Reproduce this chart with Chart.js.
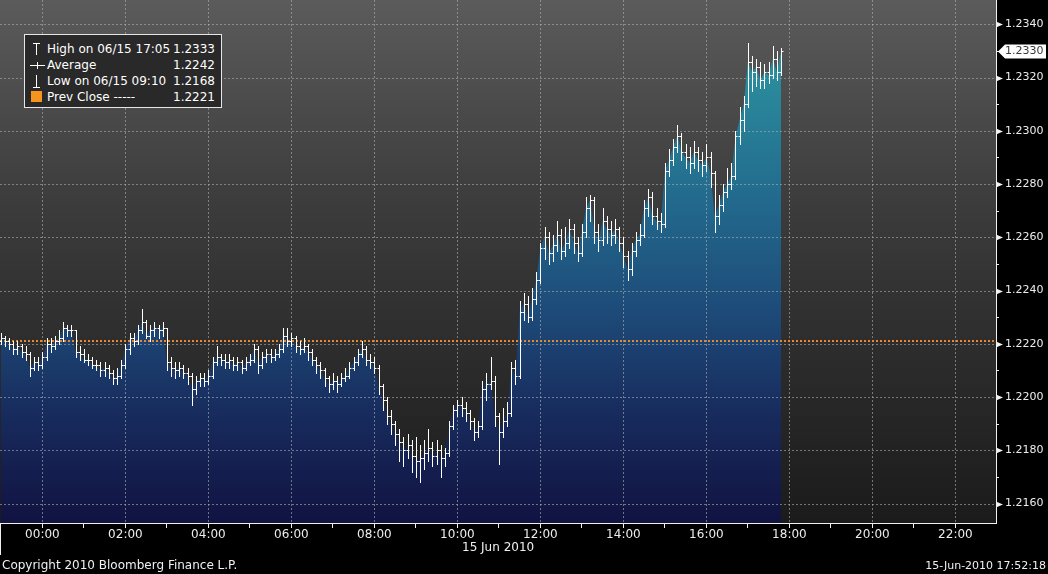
<!DOCTYPE html>
<html>
<head>
<meta charset="utf-8">
<script src="https://cdn.jsdelivr.net/npm/chart.js@4.4.0/dist/chart.umd.min.js"></script>
<style>
  body { margin: 0; background: #000; }
  #wrap { position: relative; width: 1048px; height: 574px; overflow: hidden; font-family: "DejaVu Sans", sans-serif; color: #fff; background: #000; }
  #chart { position: absolute; left: 0; top: 0; }
  .legend { position: absolute; left: 24px; top: 34px; width: 198px; height: 74px; box-sizing: border-box; background: #292929; border: 1px solid #e6e6e6; font-size: 12px; }
  .legend svg { position: absolute; left: 0; top: 0; }
  .row { position: absolute; left: 0; width: 100%; height: 16px; line-height: 16px; white-space: nowrap; }
  .row .lbl { position: absolute; left: 22px; }
  .row .val { position: absolute; right: 6px; }
  .swatch { position: absolute; left: 6px; top: 56px; width: 11px; height: 11px; background: #f7941d; }
  .foot { position: absolute; white-space: nowrap; color: #f0f0f0; }
</style>
</head>
<body>
<div id="wrap">
  <canvas id="chart" width="1048" height="574"></canvas>
  <div class="legend">
    <svg width="40" height="72">
      <g stroke="#fff" stroke-width="1" fill="none">
        <path d="M8 8.5H15M11.5 8V20"/>
        <path d="M5 30.5H20M12.5 27V34"/>
        <path d="M11.5 40V52M8 52.5H15"/>
      </g>
    </svg>
    <div class="swatch"></div>
    <div class="row" style="top:6px"><span class="lbl" id="lHigh"></span><span class="val" id="vHigh"></span></div>
    <div class="row" style="top:22px"><span class="lbl">Average</span><span class="val" id="vAvg"></span></div>
    <div class="row" style="top:38px"><span class="lbl" id="lLow"></span><span class="val" id="vLow"></span></div>
    <div class="row" style="top:54px"><span class="lbl">Prev Close -----</span><span class="val" id="vPrev"></span></div>
  </div>
  <div class="foot" style="left:462px; top:540px; font-size:12px; line-height:14px;">15 Jun 2010</div>
  <div class="foot" style="left:2px; top:558px; font-size:12px; line-height:14px;">Copyright 2010 Bloomberg Finance L.P.</div>
  <div class="foot" style="right:2px; top:559px; font-size:11px; line-height:13px;">15-Jun-2010 17:52:18</div>
</div>
<script>
// 6-minute bars, minutes from 00:00 on 15 Jun (first bar 23:00 on 14 Jun)
const firstBar = -60;
const barStep = 6;

const opens = [
  1.2221, 1.2222, 1.2221, 1.2220, 1.2218, 1.2219, 1.2217, 1.2216, 1.2211, 1.2213,
  1.2212, 1.2215, 1.2220, 1.2219, 1.2221, 1.2222, 1.2226, 1.2225, 1.2225, 1.2217,
  1.2216, 1.2214, 1.2214, 1.2212, 1.2212, 1.2210, 1.2211, 1.2209, 1.2207, 1.2208,
  1.2212, 1.2218, 1.2222, 1.2221, 1.2225, 1.2228, 1.2223, 1.2225, 1.2226, 1.2225,
  1.2226, 1.2213, 1.2211, 1.2210, 1.2211, 1.2209, 1.2208, 1.2203, 1.2206, 1.2207,
  1.2206, 1.2208, 1.2213, 1.2215, 1.2214, 1.2213, 1.2214, 1.2212, 1.2213, 1.2211,
  1.2213, 1.2214, 1.2218, 1.2212, 1.2215, 1.2216, 1.2215, 1.2216, 1.2218, 1.2223,
  1.2221, 1.2222, 1.2219, 1.2218, 1.2219, 1.2217, 1.2214, 1.2212, 1.2210, 1.2207,
  1.2205, 1.2206, 1.2205, 1.2207, 1.2208, 1.2211, 1.2213, 1.2216, 1.2218, 1.2214,
  1.2213, 1.2211, 1.2204, 1.2199, 1.2193, 1.2190, 1.2186, 1.2183, 1.2180, 1.2182,
  1.2178, 1.2176, 1.2177, 1.2179, 1.2181, 1.2178, 1.2180, 1.2177, 1.2179, 1.2189,
  1.2195, 1.2197, 1.2196, 1.2194, 1.2191, 1.2187, 1.2189, 1.2203, 1.2205, 1.2206,
  1.2193, 1.2187, 1.2191, 1.2194, 1.2211, 1.2208, 1.2232, 1.2235, 1.2230, 1.2237,
  1.2244, 1.2256, 1.2260, 1.2254, 1.2257, 1.2261, 1.2255, 1.2258, 1.2263, 1.2258,
  1.2254, 1.2262, 1.2271, 1.2274, 1.2262, 1.2259, 1.2266, 1.2263, 1.2261, 1.2263,
  1.2258, 1.2253, 1.2248, 1.2255, 1.2259, 1.2261, 1.2271, 1.2275, 1.2268, 1.2266,
  1.2265, 1.2285, 1.2289, 1.2294, 1.2298, 1.2292, 1.2290, 1.2288, 1.2292, 1.2289,
  1.2287, 1.2290, 1.2284, 1.2268, 1.2272, 1.2277, 1.2280, 1.2283, 1.2298, 1.2304,
  1.2310, 1.2326, 1.2322, 1.2324, 1.2319, 1.2322, 1.2321, 1.2327, 1.2322
];
const highs = [
  1.2224, 1.2223, 1.2222, 1.2221, 1.2221, 1.2220, 1.2219, 1.2217, 1.2215, 1.2215,
  1.2217, 1.2222, 1.2222, 1.2223, 1.2225, 1.2228, 1.2227, 1.2227, 1.2225, 1.2219,
  1.2218, 1.2216, 1.2215, 1.2214, 1.2213, 1.2213, 1.2212, 1.2210, 1.2211, 1.2214,
  1.2220, 1.2224, 1.2224, 1.2227, 1.2233, 1.2229, 1.2227, 1.2228, 1.2227, 1.2228,
  1.2226, 1.2215, 1.2213, 1.2213, 1.2212, 1.2211, 1.2209, 1.2208, 1.2209, 1.2209,
  1.2210, 1.2215, 1.2219, 1.2216, 1.2216, 1.2216, 1.2215, 1.2215, 1.2214, 1.2215,
  1.2216, 1.2220, 1.2219, 1.2217, 1.2218, 1.2218, 1.2218, 1.2220, 1.2226, 1.2226,
  1.2224, 1.2223, 1.2221, 1.2222, 1.2220, 1.2218, 1.2215, 1.2213, 1.2211, 1.2208,
  1.2209, 1.2208, 1.2209, 1.2211, 1.2213, 1.2215, 1.2218, 1.2221, 1.2219, 1.2216,
  1.2215, 1.2212, 1.2205, 1.2200, 1.2195, 1.2191, 1.2188, 1.2185, 1.2186, 1.2184,
  1.2185, 1.2182, 1.2184, 1.2188, 1.2183, 1.2184, 1.2182, 1.2181, 1.2191, 1.2197,
  1.2199, 1.2200, 1.2198, 1.2195, 1.2192, 1.2191, 1.2206, 1.2209, 1.2215, 1.2208,
  1.2194, 1.2196, 1.2198, 1.2213, 1.2214, 1.2236, 1.2239, 1.2238, 1.2241, 1.2247,
  1.2258, 1.2264, 1.2262, 1.2261, 1.2266, 1.2263, 1.2264, 1.2267, 1.2265, 1.2260,
  1.2265, 1.2275, 1.2276, 1.2275, 1.2265, 1.2271, 1.2268, 1.2266, 1.2267, 1.2264,
  1.2260, 1.2255, 1.2258, 1.2262, 1.2265, 1.2274, 1.2278, 1.2277, 1.2271, 1.2269,
  1.2288, 1.2293, 1.2297, 1.2302, 1.2299, 1.2295, 1.2294, 1.2296, 1.2294, 1.2292,
  1.2295, 1.2292, 1.2285, 1.2276, 1.2280, 1.2286, 1.2288, 1.2300, 1.2309, 1.2313,
  1.2333, 1.2328, 1.2327, 1.2326, 1.2325, 1.2326, 1.2332, 1.2330, 1.2331
];
const lows = [
  1.2220, 1.2219, 1.2218, 1.2216, 1.2216, 1.2215, 1.2214, 1.2208, 1.2210, 1.2210,
  1.2211, 1.2214, 1.2217, 1.2218, 1.2220, 1.2221, 1.2223, 1.2223, 1.2215, 1.2214,
  1.2213, 1.2212, 1.2211, 1.2210, 1.2208, 1.2208, 1.2207, 1.2205, 1.2205, 1.2207,
  1.2211, 1.2216, 1.2219, 1.2220, 1.2224, 1.2222, 1.2221, 1.2223, 1.2222, 1.2223,
  1.2210, 1.2208, 1.2207, 1.2208, 1.2207, 1.2205, 1.2197, 1.2201, 1.2204, 1.2204,
  1.2205, 1.2207, 1.2212, 1.2212, 1.2211, 1.2211, 1.2210, 1.2210, 1.2209, 1.2210,
  1.2212, 1.2213, 1.2209, 1.2211, 1.2213, 1.2213, 1.2214, 1.2215, 1.2217, 1.2219,
  1.2219, 1.2217, 1.2216, 1.2217, 1.2214, 1.2212, 1.2209, 1.2207, 1.2204, 1.2202,
  1.2203, 1.2202, 1.2204, 1.2206, 1.2207, 1.2210, 1.2212, 1.2215, 1.2212, 1.2211,
  1.2209, 1.2201, 1.2195, 1.2190, 1.2186, 1.2182, 1.2176, 1.2174, 1.2177, 1.2172,
  1.2170, 1.2168, 1.2173, 1.2176, 1.2174, 1.2175, 1.2170, 1.2174, 1.2178, 1.2188,
  1.2193, 1.2193, 1.2191, 1.2188, 1.2184, 1.2185, 1.2188, 1.2199, 1.2203, 1.2189,
  1.2175, 1.2185, 1.2189, 1.2193, 1.2205, 1.2207, 1.2229, 1.2228, 1.2229, 1.2235,
  1.2243, 1.2252, 1.2250, 1.2251, 1.2255, 1.2252, 1.2253, 1.2256, 1.2254, 1.2251,
  1.2253, 1.2260, 1.2266, 1.2258, 1.2255, 1.2257, 1.2258, 1.2257, 1.2258, 1.2255,
  1.2249, 1.2244, 1.2246, 1.2253, 1.2257, 1.2260, 1.2268, 1.2265, 1.2263, 1.2262,
  1.2264, 1.2283, 1.2287, 1.2292, 1.2289, 1.2286, 1.2284, 1.2286, 1.2285, 1.2283,
  1.2285, 1.2279, 1.2262, 1.2265, 1.2270, 1.2275, 1.2278, 1.2282, 1.2295, 1.2300,
  1.2309, 1.2315, 1.2317, 1.2316, 1.2316, 1.2318, 1.2320, 1.2319, 1.2321
];
const closes = [
  1.2222, 1.2221, 1.2220, 1.2218, 1.2219, 1.2217, 1.2216, 1.2211, 1.2213, 1.2212,
  1.2215, 1.2220, 1.2219, 1.2221, 1.2222, 1.2226, 1.2225, 1.2225, 1.2217, 1.2216,
  1.2214, 1.2214, 1.2212, 1.2212, 1.2210, 1.2211, 1.2209, 1.2207, 1.2208, 1.2212,
  1.2218, 1.2222, 1.2221, 1.2225, 1.2228, 1.2223, 1.2225, 1.2226, 1.2225, 1.2226,
  1.2213, 1.2211, 1.2210, 1.2211, 1.2209, 1.2208, 1.2203, 1.2206, 1.2207, 1.2206,
  1.2208, 1.2213, 1.2215, 1.2214, 1.2213, 1.2214, 1.2212, 1.2213, 1.2211, 1.2213,
  1.2214, 1.2218, 1.2212, 1.2215, 1.2216, 1.2215, 1.2216, 1.2218, 1.2223, 1.2221,
  1.2222, 1.2219, 1.2218, 1.2219, 1.2217, 1.2214, 1.2212, 1.2210, 1.2207, 1.2205,
  1.2206, 1.2205, 1.2207, 1.2208, 1.2211, 1.2213, 1.2216, 1.2218, 1.2214, 1.2213,
  1.2211, 1.2204, 1.2199, 1.2193, 1.2190, 1.2186, 1.2183, 1.2180, 1.2182, 1.2178,
  1.2176, 1.2177, 1.2179, 1.2181, 1.2178, 1.2180, 1.2177, 1.2179, 1.2189, 1.2195,
  1.2197, 1.2196, 1.2194, 1.2191, 1.2187, 1.2189, 1.2203, 1.2205, 1.2206, 1.2193,
  1.2187, 1.2191, 1.2194, 1.2211, 1.2208, 1.2232, 1.2235, 1.2230, 1.2237, 1.2244,
  1.2256, 1.2260, 1.2254, 1.2257, 1.2261, 1.2255, 1.2258, 1.2263, 1.2258, 1.2254,
  1.2262, 1.2271, 1.2274, 1.2262, 1.2259, 1.2266, 1.2263, 1.2261, 1.2263, 1.2258,
  1.2253, 1.2248, 1.2255, 1.2259, 1.2261, 1.2271, 1.2275, 1.2268, 1.2266, 1.2265,
  1.2285, 1.2289, 1.2294, 1.2298, 1.2292, 1.2290, 1.2288, 1.2292, 1.2289, 1.2287,
  1.2290, 1.2284, 1.2268, 1.2272, 1.2277, 1.2280, 1.2283, 1.2298, 1.2304, 1.2310,
  1.2326, 1.2322, 1.2324, 1.2319, 1.2322, 1.2321, 1.2327, 1.2322, 1.2330
];

const hourTicks = [-60, 0, 60, 120, 180, 240, 300, 360, 420, 480, 540, 600, 660, 720, 780, 840, 900, 960, 1020, 1080, 1140, 1200, 1260, 1320];
const priceTicks = [1.2160, 1.2170, 1.2180, 1.2190, 1.2200, 1.2210, 1.2220, 1.2230, 1.2240, 1.2250, 1.2260, 1.2270, 1.2280, 1.2290, 1.2300, 1.2310, 1.2320, 1.2330, 1.2340];

const highInfo = { label: 'High on 06/15 17:05', value: 1.2333 };
const lowInfo = { label: 'Low on 06/15 09:10', value: 1.2168 };
const average = 1.2242;
const prevClose = 1.2221;

const barTimes = closes.map((_, i) => firstBar + i * barStep);
const lastPrice = closes[closes.length - 1];

document.getElementById('lHigh').textContent = highInfo.label;
document.getElementById('vHigh').textContent = highInfo.value.toFixed(4);
document.getElementById('vAvg').textContent = average.toFixed(4);
document.getElementById('lLow').textContent = lowInfo.label;
document.getElementById('vLow').textContent = lowInfo.value.toFixed(4);
document.getElementById('vPrev').textContent = prevClose.toFixed(4);

const isMajorPrice = v => Math.round(v * 10000) % 20 === 0;

const bloombergPlugin = {
  id: 'bloomberg',
  beforeDatasetsDraw(chart) {
    const { ctx, chartArea: a } = chart;
    const g = ctx.createLinearGradient(0, a.top, 0, a.bottom);
    g.addColorStop(0, '#5b5b5b');
    g.addColorStop(0.4, '#3b3b3b');
    g.addColorStop(1, '#1b1b1b');
    ctx.save();
    ctx.fillStyle = g;
    ctx.fillRect(a.left, a.top, a.right - a.left, a.bottom - a.top);
    ctx.restore();
  },
  afterDatasetsDraw(chart) {
    const { ctx, chartArea: a, scales: { x, y } } = chart;
    ctx.save();
    ctx.beginPath();
    ctx.rect(a.left, a.top, a.right - a.left, a.bottom - a.top);
    ctx.clip();

    // dashed grid
    ctx.strokeStyle = 'rgba(175,175,175,0.6)';
    ctx.lineWidth = 1;
    ctx.setLineDash([2, 2]);
    ctx.beginPath();
    priceTicks.filter(isMajorPrice).forEach(v => {
      const py = Math.round(y.getPixelForValue(v)) + 0.5;
      ctx.moveTo(a.left, py); ctx.lineTo(a.right, py);
    });
    hourTicks.filter(v => v % 120 === 0).forEach(v => {
      const px = Math.round(x.getPixelForValue(v)) + 0.5;
      ctx.moveTo(px, a.top); ctx.lineTo(px, a.bottom);
    });
    ctx.stroke();

    // previous close
    const pc = Math.round(y.getPixelForValue(prevClose));
    ctx.strokeStyle = '#e8892b';
    ctx.lineWidth = 2;
    ctx.setLineDash([2, 2]);
    ctx.beginPath();
    ctx.moveTo(a.left, pc); ctx.lineTo(a.right, pc);
    ctx.stroke();

    // OHLC bars
    ctx.setLineDash([]);
    ctx.strokeStyle = '#ffffff';
    ctx.lineWidth = 1;
    ctx.beginPath();
    barTimes.forEach((t, i) => {
      const px = Math.round(x.getPixelForValue(t)) + 0.5;
      const ph = Math.round(y.getPixelForValue(highs[i]));
      const pl = Math.round(y.getPixelForValue(lows[i]));
      const po = Math.round(y.getPixelForValue(opens[i])) + 0.5;
      const pcl = Math.round(y.getPixelForValue(closes[i])) + 0.5;
      ctx.moveTo(px, ph); ctx.lineTo(px, pl + 1);
      ctx.moveTo(px - 2, po); ctx.lineTo(px, po);
      ctx.moveTo(px, pcl); ctx.lineTo(px + 2, pcl);
    });
    ctx.stroke();
    ctx.restore();
  },
  afterDraw(chart) {
    const { ctx, chartArea: a, scales: { y } } = chart;
    ctx.save();
    // axis lines
    ctx.strokeStyle = '#f0f0f0';
    ctx.lineWidth = 1;
    ctx.beginPath();
    ctx.moveTo(a.right + 0.5, a.top); ctx.lineTo(a.right + 0.5, a.bottom + 1);
    ctx.moveTo(a.left, a.bottom + 0.5); ctx.lineTo(a.right + 1, a.bottom + 0.5);
    ctx.moveTo(a.left + 0.5, a.bottom); ctx.lineTo(a.left + 0.5, a.bottom + 32);
    ctx.stroke();

    // price axis ticks: arrows at labelled values, short marks between
    ctx.fillStyle = '#f0f0f0';
    priceTicks.forEach(v => {
      const py = Math.round(y.getPixelForValue(v)) + 0.5;
      if (isMajorPrice(v)) {
        ctx.beginPath();
        ctx.moveTo(a.right, py - 3);
        ctx.lineTo(a.right + 7, py);
        ctx.lineTo(a.right, py + 3);
        ctx.closePath();
        ctx.fill();
      } else {
        ctx.beginPath();
        ctx.moveTo(a.right, py); ctx.lineTo(a.right + 3, py);
        ctx.stroke();
      }
    });

    // last price tag
    const ly = Math.round(y.getPixelForValue(lastPrice)) + 0.5;
    ctx.fillStyle = '#ffffff';
    ctx.beginPath();
    ctx.moveTo(a.right + 2, ly);
    ctx.lineTo(a.right + 9, ly - 7);
    ctx.lineTo(a.right + 50, ly - 7);
    ctx.lineTo(a.right + 50, ly + 7);
    ctx.lineTo(a.right + 9, ly + 7);
    ctx.closePath();
    ctx.fill();
    ctx.fillStyle = '#3a3a3a';
    ctx.font = '11px "DejaVu Sans"';
    ctx.textBaseline = 'middle';
    ctx.fillText(lastPrice.toFixed(4), a.right + 9, ly);
    ctx.restore();
  }
};

const areaFill = context => {
  const { ctx, chartArea } = context.chart;
  if (!chartArea) return 'rgba(0,0,0,0)';
  const g = ctx.createLinearGradient(0, chartArea.top, 0, chartArea.bottom);
  g.addColorStop(0, '#2fa0a8');
  g.addColorStop(0.15, '#2a8b9c');
  g.addColorStop(0.4, '#22678c');
  g.addColorStop(0.6, '#1d4a78');
  g.addColorStop(0.8, '#172a5c');
  g.addColorStop(1, '#111341');
  return g;
};

new Chart(document.getElementById('chart'), {
  type: 'line',
  data: {
    datasets: [{
      data: barTimes.map((t, i) => ({ x: t, y: closes[i] })),
      fill: 'start',
      backgroundColor: areaFill,
      borderWidth: 0,
      pointRadius: 0,
      tension: 0
    }]
  },
  options: {
    responsive: false,
    animation: false,
    devicePixelRatio: 1,
    layout: { padding: 0 },
    plugins: { legend: { display: false }, tooltip: { enabled: false } },
    scales: {
      x: {
        type: 'linear',
        min: -61.3,
        max: 1378.7,
        afterFit(s) { s.height = 51; s.paddingLeft = 0; s.paddingRight = 0; },
        afterBuildTicks(s) { s.ticks = hourTicks.map(v => ({ value: v })); },
        ticks: {
          autoSkip: false,
          maxRotation: 0,
          padding: 0,
          color: '#ececec',
          font: { family: 'DejaVu Sans', size: 12 },
          callback: v => v % 120 === 0 ? String(((v / 60) + 24) % 24).padStart(2, '0') + ':00' : ''
        },
        grid: { drawOnChartArea: false, drawTicks: true, tickLength: 5, color: '#f0f0f0', tickColor: '#f0f0f0' },
        border: { display: false }
      },
      y: {
        position: 'right',
        min: 1.215268,
        max: 1.234913,
        afterFit(s) { s.width = 52; s.paddingTop = 0; s.paddingBottom = 0; },
        afterBuildTicks(s) { s.ticks = priceTicks.map(v => ({ value: v })); },
        ticks: {
          autoSkip: false,
          padding: 9,
          color: '#ececec',
          font: { family: 'DejaVu Sans', size: 11 },
          callback: v => isMajorPrice(v) ? v.toFixed(4) : ''
        },
        grid: { drawOnChartArea: false, drawTicks: false },
        border: { display: false }
      }
    }
  },
  plugins: [bloombergPlugin]
});
</script>
</body>
</html>
